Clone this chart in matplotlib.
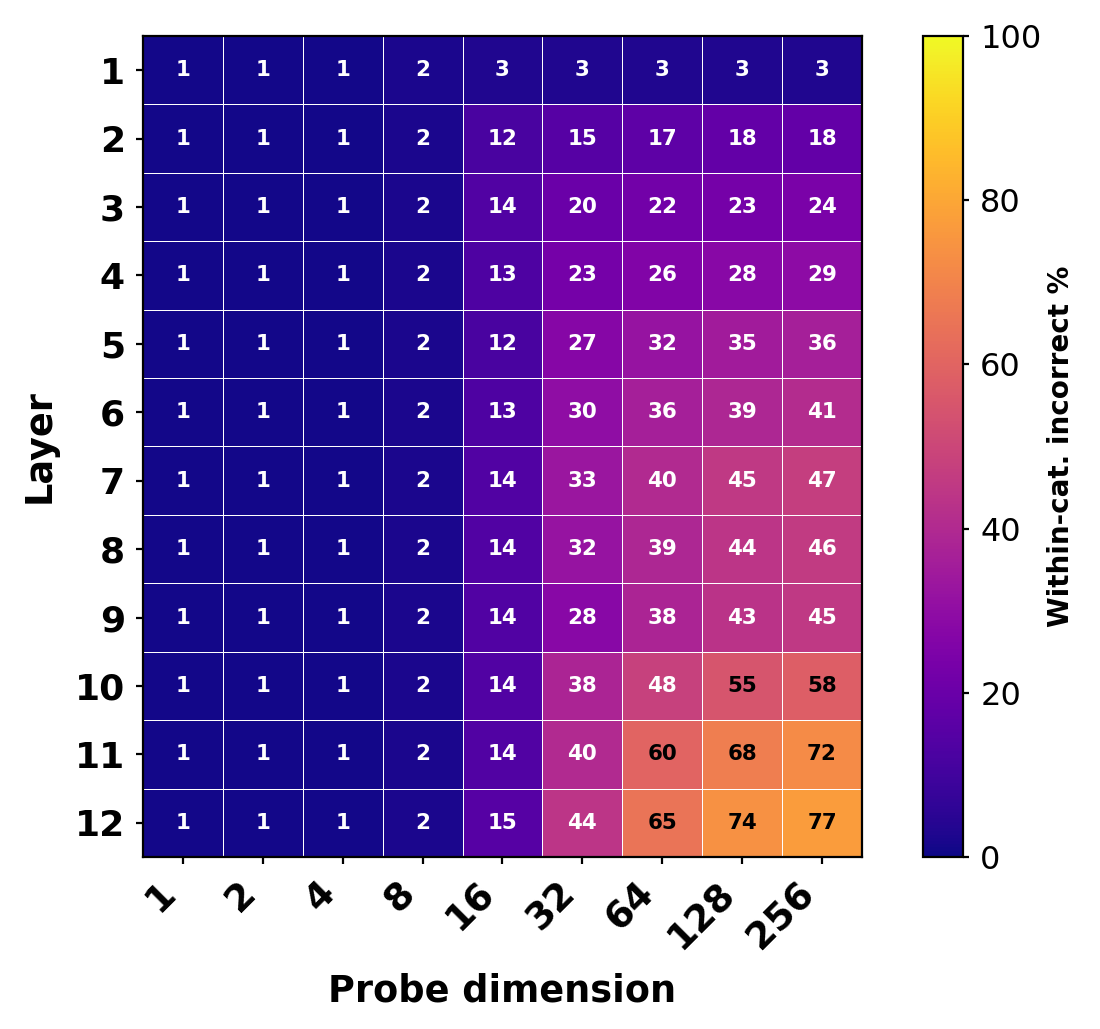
import numpy as np
import matplotlib
matplotlib.use("Agg")
import matplotlib.pyplot as plt

layers = ["1", "2", "3", "4", "5", "6", "7", "8", "9", "10", "11", "12"]
probe_dims = ["1", "2", "4", "8", "16", "32", "64", "128", "256"]
values = np.array([
    [1, 1, 1, 2, 3, 3, 3, 3, 3],
    [1, 1, 1, 2, 12, 15, 17, 18, 18],
    [1, 1, 1, 2, 14, 20, 22, 23, 24],
    [1, 1, 1, 2, 13, 23, 26, 28, 29],
    [1, 1, 1, 2, 12, 27, 32, 35, 36],
    [1, 1, 1, 2, 13, 30, 36, 39, 41],
    [1, 1, 1, 2, 14, 33, 40, 45, 47],
    [1, 1, 1, 2, 14, 32, 39, 44, 46],
    [1, 1, 1, 2, 14, 28, 38, 43, 45],
    [1, 1, 1, 2, 14, 38, 48, 55, 58],
    [1, 1, 1, 2, 14, 40, 60, 68, 72],
    [1, 1, 1, 2, 15, 44, 65, 74, 77],
])

fig = plt.figure(figsize=(5.5, 5.145), dpi=200)
ax = fig.add_axes([0.13, 0.1672, 0.6536, 0.7978])
cax = fig.add_axes([0.839, 0.1672, 0.0364, 0.7978])

nrows, ncols = values.shape
mesh = ax.pcolormesh(np.arange(ncols + 1) - 0.5, np.arange(nrows + 1) - 0.5, values,
                     cmap="plasma", vmin=0, vmax=100, edgecolors="white", linewidth=0.35)
ax.set_xlim(-0.5, ncols - 0.5)
ax.set_ylim(nrows - 0.5, -0.5)

for i in range(nrows):
    for j in range(ncols):
        v = values[i, j]
        ax.text(j, i, f"{v}", ha="center", va="center", fontsize=7.7, fontweight="bold",
                color="black" if v > 50 else "white")

ax.set_xticks(range(ncols))
ax.set_xticklabels(probe_dims, rotation=45, ha="right", fontsize=13.5, fontweight="bold")
ax.set_yticks(range(nrows))
ax.set_yticklabels(layers, fontsize=13, fontweight="bold")
ax.tick_params(length=2.5, pad=4)
ax.set_xlabel("Probe dimension", fontsize=13.2, fontweight="bold", labelpad=6)
ax.set_ylabel("Layer", fontsize=13.2, fontweight="bold", labelpad=6)

cb = fig.colorbar(mesh, cax=cax)
cb.set_ticks([0, 20, 40, 60, 80, 100])
cb.ax.tick_params(labelsize=11.5, length=2.2, pad=4)
cb.set_label("Within-cat. incorrect %", fontsize=10, fontweight="bold", labelpad=2)

fig.savefig("out.png", dpi=200)
